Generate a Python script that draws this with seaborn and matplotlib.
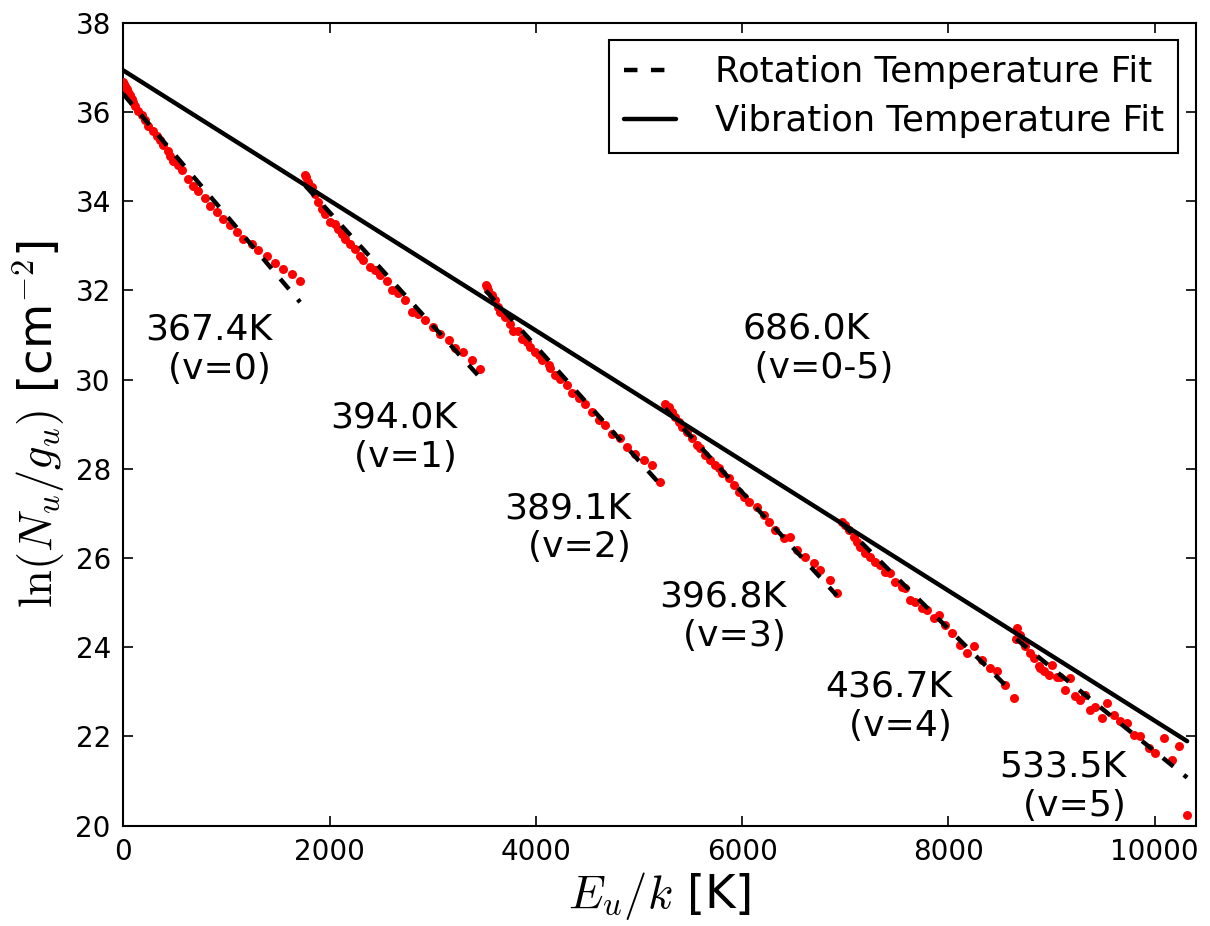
import numpy as np
import pandas as pd
import matplotlib
matplotlib.use("Agg")
import matplotlib.pyplot as plt
import seaborn as sns
from matplotlib.lines import Line2D

# ---- data ----
v0_x = [0, 5, 17, 33, 48, 66, 82, 98, 114, 146, 178, 211, 243, 291, 324, 356, 388, 437, 453, 485, 534, 566,
        630, 680, 728, 793, 841, 906, 970, 1035, 1099, 1164, 1246, 1310, 1391, 1472, 1552, 1633, 1714]
v0_y = [36.68, 36.63, 36.59, 36.52, 36.44, 36.37, 36.29, 36.22, 36.14, 36.03, 35.92, 35.81, 35.69, 35.58,
        35.47, 35.36, 35.25, 35.13, 35.02, 34.91, 34.80, 34.69, 34.50, 34.35, 34.22, 34.07, 33.90, 33.75,
        33.61, 33.46, 33.31, 33.16, 33.03, 32.90, 32.76, 32.61, 32.49, 32.36, 32.22]

v1_x = [1765, 1772, 1794, 1828, 1860, 1892, 1925, 1957, 2005, 2054, 2086, 2118, 2151, 2199, 2247, 2296, 2328,
        2393, 2441, 2490, 2555, 2603, 2668, 2733, 2797, 2862, 2926, 3001, 3071, 3153, 3218, 3298, 3379, 3460]
v1_y = [34.58, 34.54, 34.43, 34.31, 34.15, 33.98, 33.83, 33.72, 33.53, 33.49, 33.38, 33.27, 33.16, 33.05,
        32.93, 32.78, 32.67, 32.52, 32.45, 32.34, 32.22, 32.00, 31.93, 31.78, 31.52, 31.48, 31.33, 31.18,
        31.03, 30.88, 30.70, 30.62, 30.43, 30.23]

v2_x = [3515, 3524, 3540, 3573, 3605, 3637, 3654, 3702, 3751, 3783, 3831, 3864, 3913, 3945, 3994, 4026, 4058,
        4123, 4139, 4187, 4236, 4300, 4349, 4414, 4479, 4543, 4608, 4672, 4737, 4818, 4882, 4963, 5044,
        5125, 5206]
v2_y = [32.12, 32.07, 32.00, 31.89, 31.78, 31.63, 31.51, 31.40, 31.25, 31.10, 31.10, 30.92, 30.84, 30.73,
        30.62, 30.55, 30.43, 30.32, 30.25, 30.10, 30.02, 29.87, 29.69, 29.58, 29.46, 29.28, 29.09, 28.98,
        28.79, 28.68, 28.49, 28.34, 28.19, 28.08, 27.71]

v3_x = [5254, 5287, 5319, 5351, 5384, 5416, 5464, 5513, 5561, 5593, 5643, 5691, 5740, 5772, 5804, 5869,
        5917, 5966, 6014, 6062, 6143, 6208, 6256, 6322, 6402, 6467, 6531, 6612, 6693, 6757, 6854, 6920]
v3_y = [29.46, 29.39, 29.28, 29.16, 29.05, 28.94, 28.83, 28.68, 28.53, 28.46, 28.31, 28.19, 28.08, 28.01,
        27.90, 27.79, 27.64, 27.49, 27.37, 27.26, 27.15, 26.96, 26.81, 26.63, 26.44, 26.48, 26.18, 26.03,
        25.88, 25.73, 25.51, 25.21]

v4_x = [6968, 7000, 7033, 7081, 7113, 7146, 7194, 7243, 7291, 7339, 7388, 7436, 7485, 7550, 7582, 7631,
        7679, 7744, 7792, 7857, 7905, 7970, 8034, 8115, 8181, 8245, 8326, 8407, 8471, 8552, 8633]
v4_y = [26.81, 26.74, 26.63, 26.48, 26.37, 26.25, 26.11, 26.03, 25.92, 25.84, 25.69, 25.66, 25.47, 25.36,
        25.32, 25.06, 25.02, 24.87, 24.84, 24.65, 24.72, 24.50, 24.31, 24.05, 23.87, 24.02, 23.72, 23.53,
        23.46, 23.16, 22.86]

v5_x = [8659, 8665, 8697, 8729, 8745, 8795, 8827, 8876, 8892, 8924, 8973, 9005, 9053, 9086, 9134, 9183,
        9231, 9279, 9328, 9376, 9425, 9490, 9538, 9603, 9667, 9732, 9797, 9861, 9942, 10006, 10088, 10169,
        10233, 10314]
v5_y = [24.18, 24.43, 24.28, 24.09, 24.02, 23.87, 23.75, 23.57, 23.53, 23.46, 23.38, 23.61, 23.34, 23.33,
        23.05, 23.31, 22.90, 22.82, 22.93, 22.60, 22.67, 22.41, 22.76, 22.49, 22.34, 22.30, 22.04, 22.00,
        21.74, 21.63, 21.96, 21.48, 21.78, 20.25]

# rotational-temperature fits per vibrational band (T in K, reference point of the fit line)
rot_T = [367.4, 394.0, 389.1, 396.8, 436.7, 533.5]
rot_ref_x = [0, 1779, 3540, 5271, 6984, 8665]
rot_ref_y = [36.40, 34.31, 31.93, 29.31, 26.74, 24.17]

# vibrational-temperature fit
vib_T = 686.0
vib_y0 = 36.93

band_labels = ["367.4K\n  (v=0)", "394.0K\n  (v=1)", "389.1K\n  (v=2)",
               "396.8K\n  (v=3)", "436.7K\n  (v=4)", "533.5K\n  (v=5)"]
band_label_x = [215, 2010, 3697, 5200, 6810, 8497]
band_label_y = [30.69, 28.70, 26.68, 24.70, 22.67, 20.88]
vib_label = "686.0K\n (v=0-5)"
vib_label_x, vib_label_y = 6005, 30.70

x_ticks = [0, 2000, 4000, 6000, 8000, 10000]
y_ticks = [20, 22, 24, 26, 28, 30, 32, 34, 36, 38]

# ---- build tables ----
bands_x = [v0_x, v1_x, v2_x, v3_x, v4_x, v5_x]
bands_y = [v0_y, v1_y, v2_y, v3_y, v4_y, v5_y]
pts = pd.concat([pd.DataFrame({"E": bx, "lnN": by, "band": i})
                 for i, (bx, by) in enumerate(zip(bands_x, bands_y))], ignore_index=True)

# ---- style ----
sns.set_style("ticks")
plt.rcParams["font.family"] = ["DejaVu Sans"]
plt.rcParams["mathtext.fontset"] = "cm"
plt.rcParams["lines.scale_dashes"] = False
plt.rcParams["text.color"] = "black"
plt.rcParams["axes.labelcolor"] = "black"
plt.rcParams["xtick.color"] = "black"
plt.rcParams["ytick.color"] = "black"
plt.rcParams["axes.edgecolor"] = "black"

fig = plt.figure(figsize=(12.1, 9.26), dpi=100)
ax = fig.add_axes([0.1019, 0.1083, 0.9884 - 0.1019, 0.9755 - 0.1083])

sns.scatterplot(data=pts, x="E", y="lnN", color="#ff0000", s=42, linewidth=0, ax=ax,
                legend=False, zorder=3)

for i in range(6):
    xs = np.array([min(bands_x[i]), max(bands_x[i])], dtype=float)
    ys = rot_ref_y[i] - (xs - rot_ref_x[i]) / rot_T[i]
    ax.plot(xs, ys, color="black", lw=3.2, dashes=(9.7, 9.7), zorder=4)

xv = np.array([0.0, float(pts["E"].max())])
ax.plot(xv, vib_y0 - xv / vib_T, color="black", lw=3.2, zorder=4)

for s, tx, ty in zip(band_labels, band_label_x, band_label_y):
    ax.text(tx, ty, s, fontsize=26, ha="left", va="center", multialignment="left", color="black")
ax.text(vib_label_x, vib_label_y, vib_label, fontsize=26, ha="left", va="center",
        multialignment="left", color="black")

ax.set_xlim(0, 10400)
ax.set_ylim(20, 38)
ax.set_xticks(x_ticks)
ax.set_yticks(y_ticks)
ax.tick_params(direction="in", top=True, right=True, length=7, width=1.2,
               labelsize=20, pad=9, colors="black")
for sp in ax.spines.values():
    sp.set_linewidth(1.5)
    sp.set_color("black")

ax.set_xlabel(r"$E_u/k$ [K]", fontsize=33.5, labelpad=3, color="black")
ax.set_ylabel(r"$\ln(N_u/g_u)$ [cm$^{-2}$]", fontsize=33.5, labelpad=6, color="black")

handles = [Line2D([], [], color="black", lw=3.2, dashes=(9.7, 9.7)),
           Line2D([], [], color="black", lw=3.2)]
leg = ax.legend(handles, ["Rotation Temperature Fit", "Vibration Temperature Fit"],
                loc="upper right", fontsize=25.5, fancybox=False, frameon=True,
                handlelength=1.47, handletextpad=1.1, labelspacing=0.44, borderpad=0.41,
                borderaxespad=0.5)
leg.get_frame().set_edgecolor("black")
leg.get_frame().set_linewidth(1.5)
leg.get_frame().set_alpha(1)
for t in leg.get_texts():
    t.set_color("black")

fig.savefig("out.png", dpi=100)
